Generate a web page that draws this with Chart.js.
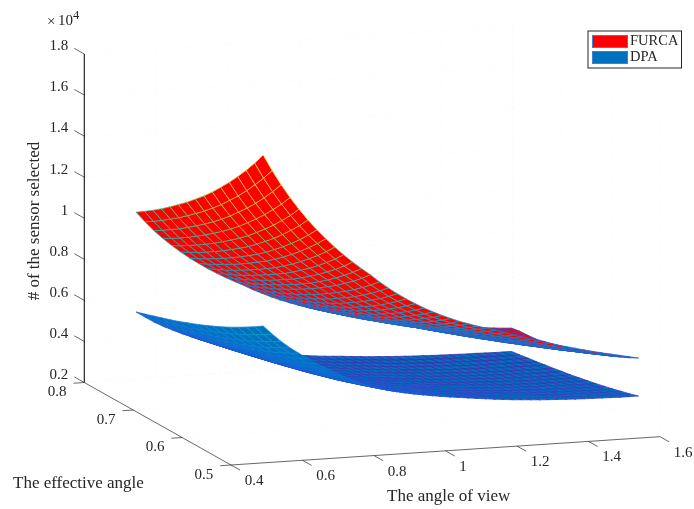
<!DOCTYPE html>
<html>
<head>
<meta charset="utf-8">
<script src="https://cdn.jsdelivr.net/npm/chart.js@4"></script>
<style>body{margin:0;background:#fff}canvas{display:block}</style>
</head>
<body>
<canvas id="myChart" width="694" height="509"></canvas>
<script>
const xTicks = [0.4, 0.6, 0.8, 1, 1.2, 1.4, 1.6];
const yTicks = [0.5, 0.6, 0.7, 0.8];
const zTicks = [0.2, 0.4, 0.6, 0.8, 1, 1.2, 1.4, 1.6, 1.8];
const seriesNames = ['FURCA', 'DPA'];
const xTitle = 'The angle of view';
const yTitle = 'The effective angle';
const zTitle = '# of the sensor selected';

// angle of view, one entry per surface column
const viewAngles = [.49,.515,.54,.565,.59,.615,.64,.665,.69,.715,.74,.765,.79,.815,.84,.865,.89,.915,.94,.965,.99,1.015,1.04,1.065,1.09,1.115,1.14,1.165,1.19,1.215,1.24,1.265,1.29,1.315,1.34,1.365,1.39,1.415,1.44,1.465,1.49,1.515,1.54];
// effective angle, one entry per surface row
const effAngles = [.5,.5173,.5347,.552,.5693,.5867,.604,.6213,.6387,.656,.6733,.6907,.708,.7253,.7427,.76];

// sensors selected, x10^4
const furca = [
[1.700,1.621,1.549,1.484,1.424,1.369,1.318,1.272,1.228,1.188,1.150,1.115,1.082,1.045,1.012,.981,.953,.927,.903,.881,.861,.843,.826,.811,.797,.785,.772,.757,.742,.729,.715,.703,.691,.679,.668,.657,.646,.636,.626,.617,.608,.599,.590],
[1.637,1.561,1.492,1.429,1.371,1.318,1.269,1.225,1.183,1.144,1.107,1.074,1.042,1.006,.975,.945,.918,.893,.870,.848,.829,.812,.795,.781,.768,.756,.743,.729,.715,.702,.689,.677,.665,.654,.643,.633,.622,.612,.603,.594,.586,.577,.568],
[1.579,1.506,1.439,1.379,1.323,1.272,1.224,1.182,1.141,1.104,1.068,1.036,1.005,.971,.940,.911,.885,.861,.839,.818,.800,.783,.767,.753,.740,.729,.717,.703,.689,.677,.664,.653,.642,.631,.621,.610,.600,.591,.582,.573,.565,.556,.548],
[1.525,1.454,1.389,1.331,1.277,1.228,1.182,1.141,1.102,1.066,1.032,1.000,.971,.937,.908,.880,.855,.832,.810,.790,.772,.756,.741,.727,.715,.704,.692,.679,.666,.654,.641,.631,.620,.609,.599,.589,.579,.570,.562,.553,.545,.537,.529],
[1.474,1.405,1.343,1.287,1.235,1.187,1.143,1.103,1.065,1.030,.997,.967,.938,.906,.877,.851,.826,.804,.783,.764,.746,.731,.716,.703,.691,.681,.669,.656,.643,.632,.620,.610,.599,.589,.579,.570,.560,.551,.543,.535,.527,.519,.512],
[1.426,1.360,1.300,1.245,1.195,1.149,1.106,1.067,1.030,.997,.965,.935,.908,.877,.849,.823,.800,.778,.758,.739,.722,.707,.693,.680,.669,.659,.648,.635,.623,.612,.600,.590,.580,.570,.560,.551,.542,.534,.525,.518,.510,.503,.495],
[1.380,1.316,1.258,1.205,1.156,1.112,1.070,1.033,.997,.965,.934,.905,.879,.849,.822,.797,.774,.753,.733,.715,.699,.685,.671,.659,.647,.637,.627,.615,.603,.592,.581,.571,.561,.551,.542,.533,.525,.516,.508,.501,.494,.486,.479],
[1.338,1.276,1.219,1.168,1.121,1.077,1.037,1.001,.966,.935,.905,.878,.852,.822,.796,.772,.750,.730,.711,.693,.678,.663,.650,.638,.627,.618,.608,.596,.584,.574,.563,.553,.544,.534,.526,.517,.508,.501,.493,.486,.478,.471,.464],
[1.299,1.238,1.183,1.134,1.088,1.046,1.007,.972,.938,.908,.879,.852,.827,.798,.773,.749,.728,.708,.690,.673,.658,.644,.631,.620,.609,.600,.590,.578,.567,.557,.546,.537,.528,.519,.510,.502,.494,.486,.478,.471,.465,.458,.451],
[1.261,1.203,1.149,1.101,1.057,1.016,.978,.944,.911,.882,.853,.827,.803,.775,.751,.728,.707,.688,.670,.654,.639,.626,.613,.602,.591,.582,.573,.562,.551,.541,.531,.522,.513,.504,.496,.487,.479,.472,.464,.458,.451,.444,.438],
[1.226,1.169,1.117,1.070,1.027,.987,.950,.917,.885,.857,.829,.804,.780,.753,.730,.707,.687,.668,.651,.635,.621,.608,.596,.585,.575,.566,.557,.546,.535,.526,.516,.507,.498,.490,.482,.474,.466,.459,.451,.445,.438,.432,.425],
[1.192,1.136,1.086,1.040,.998,.960,.924,.892,.861,.833,.806,.782,.758,.733,.709,.688,.668,.650,.633,.618,.604,.591,.579,.569,.559,.550,.541,.531,.520,.511,.501,.493,.484,.476,.468,.461,.453,.446,.439,.433,.426,.420,.414],
[1.159,1.106,1.056,1.012,.971,.934,.899,.868,.837,.810,.784,.760,.738,.713,.690,.669,.650,.632,.616,.601,.587,.575,.563,.553,.544,.535,.527,.516,.506,.497,.488,.479,.471,.463,.456,.448,.441,.434,.427,.421,.415,.409,.402],
[1.129,1.076,1.029,.985,.946,.909,.875,.845,.815,.789,.764,.740,.718,.694,.672,.651,.633,.616,.600,.585,.572,.560,.548,.539,.529,.521,.513,.503,.493,.484,.475,.467,.459,.451,.444,.436,.429,.422,.418,.413,.408,.403,.398],
[1.100,1.049,1.002,.960,.921,.886,.853,.823,.795,.769,.744,.721,.700,.676,.655,.635,.617,.600,.584,.570,.557,.545,.534,.525,.516,.508,.499,.490,.480,.472,.463,.456,.448,.441,.435,.429,.423,.417,.412,.407,.402,.398,.395],
[1.073,1.023,.977,.936,.899,.864,.832,.803,.775,.750,.726,.704,.683,.659,.639,.619,.601,.585,.570,.556,.543,.532,.521,.512,.503,.495,.487,.478,.468,.460,.451,.445,.438,.431,.426,.420,.414,.408,.403,.398,.394,.390,.388]
];
const dpa = [
[.867,.825,.786,.752,.722,.693,.666,.641,.618,.596,.575,.556,.540,.526,.514,.503,.494,.486,.479,.472,.466,.460,.455,.450,.445,.440,.435,.431,.427,.424,.421,.418,.416,.414,.412,.410,.409,.408,.407,.406,.405,.405,.405],
[.840,.799,.762,.729,.700,.672,.645,.621,.599,.578,.557,.539,.523,.510,.498,.487,.479,.471,.464,.457,.452,.446,.441,.436,.431,.426,.422,.418,.414,.411,.408,.405,.403,.401,.399,.397,.396,.395,.394,.393,.392,.392,.392],
[.815,.776,.739,.707,.679,.651,.626,.603,.581,.560,.541,.523,.508,.494,.483,.473,.464,.457,.450,.444,.438,.432,.428,.423,.418,.414,.409,.405,.401,.399,.396,.393,.391,.389,.387,.385,.384,.384,.383,.382,.381,.381,.381],
[.791,.752,.717,.686,.658,.632,.607,.585,.564,.544,.524,.507,.492,.480,.469,.459,.451,.443,.437,.430,.425,.420,.415,.410,.406,.401,.397,.393,.389,.387,.384,.381,.379,.378,.376,.374,.373,.372,.371,.370,.369,.369,.369],
[.768,.731,.696,.666,.640,.614,.590,.568,.548,.528,.509,.493,.478,.466,.455,.446,.438,.431,.424,.418,.413,.408,.403,.399,.394,.390,.385,.382,.378,.376,.373,.370,.369,.367,.365,.363,.362,.361,.361,.360,.359,.359,.359],
[.747,.711,.678,.648,.622,.597,.574,.553,.533,.514,.496,.479,.465,.453,.443,.434,.426,.419,.413,.407,.402,.397,.392,.388,.384,.379,.375,.372,.368,.365,.363,.360,.359,.357,.355,.353,.353,.352,.351,.350,.349,.349,.349],
[.727,.692,.659,.631,.606,.581,.559,.538,.519,.500,.482,.466,.453,.441,.431,.422,.414,.408,.402,.396,.391,.386,.382,.378,.373,.369,.365,.362,.358,.356,.353,.351,.349,.347,.346,.344,.343,.342,.341,.341,.340,.340,.340],
[.708,.674,.642,.614,.590,.566,.544,.524,.505,.487,.470,.454,.441,.430,.420,.411,.404,.397,.391,.386,.381,.376,.372,.368,.364,.359,.355,.352,.349,.346,.344,.342,.340,.338,.337,.335,.334,.333,.333,.332,.331,.331,.331],
[.690,.657,.626,.599,.575,.552,.530,.510,.492,.474,.458,.443,.430,.419,.409,.400,.393,.387,.381,.376,.371,.366,.362,.358,.354,.350,.346,.343,.340,.338,.335,.333,.331,.330,.328,.326,.326,.325,.324,.323,.322,.322,.322],
[.674,.641,.611,.584,.561,.538,.517,.498,.480,.463,.447,.432,.420,.409,.399,.391,.384,.378,.372,.367,.362,.357,.354,.350,.346,.342,.338,.335,.332,.329,.327,.325,.323,.322,.320,.319,.318,.317,.316,.315,.315,.315,.315],
[.657,.625,.596,.570,.547,.525,.505,.486,.468,.452,.436,.421,.409,.399,.390,.381,.374,.368,.363,.358,.353,.349,.345,.341,.337,.334,.330,.327,.324,.321,.319,.317,.315,.314,.312,.311,.310,.309,.309,.308,.307,.307,.307],
[.642,.611,.582,.557,.535,.514,.494,.475,.458,.442,.426,.412,.400,.390,.381,.373,.366,.360,.355,.350,.345,.341,.337,.333,.330,.326,.322,.319,.316,.314,.312,.310,.308,.307,.305,.304,.303,.302,.302,.301,.300,.300,.300],
[.628,.597,.569,.544,.523,.502,.482,.464,.447,.431,.416,.403,.391,.381,.372,.364,.358,.352,.347,.342,.337,.333,.329,.326,.322,.319,.315,.312,.309,.307,.305,.303,.301,.300,.298,.297,.296,.295,.295,.294,.293,.293,.293],
[.614,.584,.556,.532,.511,.491,.472,.454,.438,.422,.407,.394,.382,.372,.364,.356,.350,.344,.339,.334,.330,.326,.322,.319,.315,.312,.308,.305,.302,.300,.298,.296,.295,.293,.292,.290,.290,.289,.288,.287,.287,.287,.287],
[.600,.571,.544,.520,.500,.480,.461,.444,.428,.412,.398,.385,.374,.364,.356,.348,.342,.336,.331,.327,.322,.318,.315,.311,.308,.304,.301,.298,.295,.293,.291,.289,.288,.286,.285,.284,.283,.282,.282,.281,.280,.280,.280],
[.587,.559,.532,.509,.489,.469,.451,.434,.418,.403,.389,.376,.366,.356,.348,.341,.334,.329,.324,.320,.315,.311,.308,.305,.301,.298,.294,.292,.289,.287,.285,.283,.282,.280,.279,.278,.277,.276,.276,.275,.274,.274,.274]
];

const xMin = 0.4, xMax = 1.6, yMin = 0.5, yMax = 0.8, zMin = 0.2, zMax = 1.8;

// the matlab view, orthographic, flattened onto the page plane
function project(x, y, z) {
    return {
        x: 231 + 357.5 * (x - xMin) - 489 * (y - yMin),
        y: 465 - 23.6 * (x - xMin) - 275 * (y - yMin) - 205.3 * (z - zMin)
    };
}

// parula, with the low end pulled towards what the picture shows
const parula = [[62,38,168],[30,85,215],[8,125,222],[8,170,198],[55,192,150],[171,199,57],[254,195,56],[249,251,21]];
function edgeColor(z) {
    let t = Math.min(Math.max((z - 0.274) / (1.7 - 0.274), 0), 1) * (parula.length - 1);
    let i = Math.min(Math.floor(t), parula.length - 2);
    let f = t - i;
    let c = parula[i].map((v, k) => Math.round(v + (parula[i + 1][k] - v) * f));
    return 'rgb(' + c.join(',') + ')';
}

function lineSet(points, color, width, dash) {
    return {
        data: points,
        showLine: true,
        fill: false,
        borderColor: color,
        borderWidth: width,
        borderDash: dash || [],
        pointRadius: 0,
        tension: 0
    };
}

// dataset 0 is painted last, so the nearest cell has to come first
function surfaceCells(table, faceColor) {
    let cells = [];
    for (let r = 0; r < effAngles.length - 1; r++) {
        for (let c = 0; c < viewAngles.length - 1; c++) {
            let a = project(viewAngles[c], effAngles[r], table[r][c]);
            let b = project(viewAngles[c + 1], effAngles[r], table[r][c + 1]);
            let d = project(viewAngles[c + 1], effAngles[r + 1], table[r + 1][c + 1]);
            let e = project(viewAngles[c], effAngles[r + 1], table[r + 1][c]);
            let mean = (table[r][c] + table[r][c + 1] + table[r + 1][c + 1] + table[r + 1][c]) / 4;
            cells.push({
                data: [a, b, d, e, a],
                showLine: true,
                fill: 'shape',
                backgroundColor: faceColor,
                borderColor: edgeColor(mean),
                borderWidth: 0.75,
                pointRadius: 0,
                tension: 0
            });
        }
    }
    return cells;
}

const axisColor = '#262626';
const datasets = [];
datasets.push(...surfaceCells(furca, '#ff0000'));
datasets.push(...surfaceCells(dpa, '#0072bd'));

// axes and ticks
datasets.push(lineSet([project(xMin, yMax, zMin), project(xMin, yMax, zMax)], '#111', 1.1));
datasets.push(lineSet([project(xMin, yMin, zMin), project(xMax, yMin, zMin)], axisColor, 0.7));
datasets.push(lineSet([project(xMin, yMin, zMin), project(xMin, yMax, zMin)], axisColor, 0.7));
zTicks.forEach(z => datasets.push(lineSet([project(xMin, yMax, z), project(xMin, yMax + 0.0204, z)], axisColor, 0.7)));
xTicks.forEach(x => datasets.push(lineSet([project(x, yMin, zMin), project(x, yMin - 0.0187, zMin)], axisColor, 0.7)));
yTicks.forEach(y => datasets.push(lineSet([project(xMin, y, zMin), project(xMin - 0.03, y, zMin)], axisColor, 0.7)));

// the grid is barely visible in the picture
const gridColor = '#f5f5f5';
zTicks.forEach(z => datasets.push(lineSet([project(xMin, yMax, z), project(xMax, yMax, z), project(xMax, yMin, z)], gridColor, 0.5, [2, 3])));
xTicks.forEach(x => datasets.push(lineSet([project(x, yMin, zMin), project(x, yMax, zMin), project(x, yMax, zMax)], gridColor, 0.5, [2, 3])));
yTicks.forEach(y => datasets.push(lineSet([project(xMin, y, zMin), project(xMax, y, zMin), project(xMax, y, zMax)], gridColor, 0.5, [2, 3])));

const labelsPlugin = {
    id: 'labels3d',
    afterDraw(chart) {
        const ctx = chart.ctx;
        const sx = chart.scales.x, sy = chart.scales.y;
        const at = p => ({ x: sx.getPixelForValue(p.x), y: sy.getPixelForValue(p.y) });
        ctx.save();
        ctx.fillStyle = axisColor;
        ctx.textBaseline = 'middle';
        ctx.font = '15px "Liberation Serif"';

        ctx.textAlign = 'right';
        zTicks.forEach(z => {
            let p = at(project(xMin, yMax + 0.0204, z));
            ctx.fillText(String(z), p.x - 6, p.y - 2);
        });
        yTicks.forEach(y => {
            let p = at(project(xMin - 0.03, y, zMin));
            ctx.fillText(y.toFixed(1), p.x - 7, p.y + 9);
        });
        ctx.textAlign = 'left';
        xTicks.forEach(x => {
            let p = at(project(x, yMin - 0.0187, zMin));
            ctx.fillText(String(x), p.x + 4.5, p.y + 11);
        });

        // exponent
        ctx.fillText('\u00d7', 47, 22);
        ctx.fillText('10', 58, 21);
        ctx.font = '12.5px "Liberation Serif"';
        ctx.fillText('4', 73, 15.5);

        ctx.font = '17px "Liberation Serif"';
        ctx.textAlign = 'left';
        ctx.fillText(xTitle, 387, 497);
        ctx.fillText(yTitle, 13, 484);
        ctx.save();
        ctx.translate(35, 221);
        ctx.rotate(-Math.PI / 2);
        ctx.textAlign = 'center';
        ctx.fillText(zTitle, 0, 0);
        ctx.restore();

        // legend box
        ctx.strokeStyle = axisColor;
        ctx.lineWidth = 1;
        ctx.fillStyle = '#fff';
        ctx.fillRect(588, 31, 93.5, 37);
        ctx.strokeRect(588, 31, 93.5, 37);
        const swatches = ['#ff0000', '#0072bd'];
        seriesNames.forEach((name, i) => {
            let top = 35.5 + i * 16;
            ctx.fillStyle = swatches[i];
            ctx.fillRect(592.5, top, 35, 12);
            ctx.strokeStyle = '#3d85c6';
            ctx.strokeRect(592.5, top, 35, 12);
            ctx.fillStyle = axisColor;
            ctx.font = '14.5px "Liberation Serif"';
            ctx.textAlign = 'left';
            ctx.fillText(name, 630, top + 6);
        });
        ctx.restore();
    }
};

new Chart(document.getElementById('myChart'), {
    type: 'scatter',
    data: { datasets: datasets },
    plugins: [labelsPlugin],
    options: {
        responsive: false,
        animation: false,
        devicePixelRatio: 1,
        layout: { padding: 0 },
        plugins: { legend: { display: false }, tooltip: { enabled: false } },
        scales: {
            x: { type: 'linear', min: 0, max: 694, display: false },
            y: { type: 'linear', min: 0, max: 509, reverse: true, display: false }
        }
    }
});
</script>
</body>
</html>
